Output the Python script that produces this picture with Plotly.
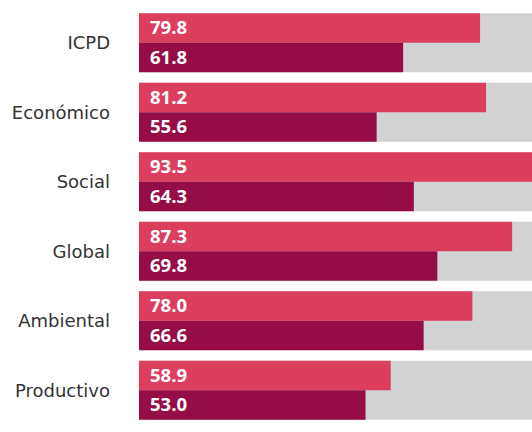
import plotly.graph_objects as go

# Index values per dimension
categories = ["ICPD", "Económico", "Social", "Global", "Ambiental", "Productivo"]
serie_a = [79.8, 81.2, 93.5, 87.3, 78.0, 58.9]
serie_b = [61.8, 55.6, 64.3, 69.8, 66.6, 53.0]
max_value = 100

color_a = "rgb(220,62,94)"
color_b = "rgb(150,12,70)"
color_bg = "rgb(209,210,212)"

bar_w = 0.4245
idx = list(range(len(categories)))

fig = go.Figure()

# grey full-scale background behind each pair
fig.add_trace(go.Bar(
    y=idx, x=[max_value] * len(categories), orientation="h",
    marker=dict(color=color_bg, line=dict(width=0)),
    width=2 * bar_w, offset=-bar_w, hoverinfo="skip", showlegend=False,
))
fig.add_trace(go.Bar(
    y=idx, x=serie_a, orientation="h",
    marker=dict(color=color_a, line=dict(width=0)),
    width=bar_w, offset=-bar_w, showlegend=False,
))
fig.add_trace(go.Bar(
    y=idx, x=serie_b, orientation="h",
    marker=dict(color=color_b, line=dict(width=0)),
    width=bar_w, offset=0, showlegend=False,
))

annotations = []
for i, (a, b) in enumerate(zip(serie_a, serie_b)):
    for val, yc in ((a, i - bar_w / 2), (b, i + bar_w / 2)):
        annotations.append(dict(
            x=0, y=yc, xref="x", yref="y", text=f"<b>{val:.1f}</b>",
            showarrow=False, xanchor="left", yanchor="middle",
            xshift=9, yshift=1.5,
            font=dict(family="Open Sans", size=18.5, color="white"),
        ))

fig.update_layout(
    width=532, height=432,
    margin=dict(l=139, r=0, t=8, b=7),
    barmode="overlay",
    plot_bgcolor="white", paper_bgcolor="white",
    annotations=annotations,
    xaxis=dict(range=[0, 91.95], visible=False, fixedrange=True),
    yaxis=dict(
        range=[5.5, -0.5], tickmode="array", tickvals=idx, ticktext=categories,
        showgrid=False, zeroline=False, showline=False, ticks="",
        ticklabelstandoff=28,
        tickfont=dict(family="DejaVu Sans", size=18, color="rgb(51,51,51)"),
    ),
)

fig.write_html("out.html")
